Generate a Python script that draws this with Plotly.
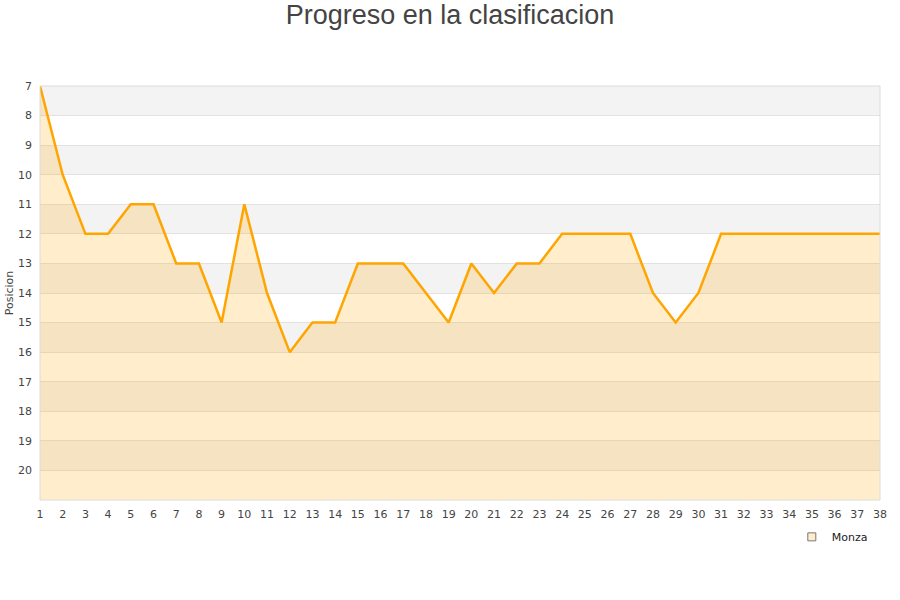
import plotly.graph_objects as go

jornadas = list(range(1, 39))
posicion = [7, 10, 12, 12, 11, 11, 13, 13, 15, 11, 14, 16, 15, 15, 13, 13, 13, 14, 15, 13,
            14, 13, 13, 12, 12, 12, 12, 14, 15, 14, 12, 12, 12, 12, 12, 12, 12, 12]
equipo = "Monza"
y_top, y_bottom = 7, 21

fig = go.Figure()

# baseline for fill
fig.add_trace(go.Scatter(x=jornadas, y=[y_bottom] * len(jornadas), mode="lines",
                         line=dict(width=0, color="rgba(0,0,0,0)"), showlegend=False,
                         hoverinfo="skip"))
fig.add_trace(go.Scatter(x=jornadas, y=posicion, mode="lines", fill="tonexty",
                         fillcolor="rgba(255,165,0,0.2)",
                         line=dict(color="#ffa500", width=2.5), showlegend=False, name=equipo))
# legend marker
fig.add_trace(go.Scatter(x=[None], y=[None], mode="markers", name=equipo,
                         marker=dict(symbol="square", size=8, color="#ffedcc",
                                     line=dict(color="#777", width=1))))

shapes = []
for v in range(y_top, y_bottom, 2):
    shapes.append(dict(type="rect", xref="paper", yref="y", x0=0, x1=1, y0=v, y1=v + 1,
                       fillcolor="#f3f3f3", line=dict(width=0), layer="below"))
shapes.append(dict(type="rect", xref="paper", yref="paper", x0=0, x1=1, y0=0, y1=1,
                   line=dict(color="#dcdcdc", width=1), fillcolor="rgba(0,0,0,0)"))

fig.update_layout(
    width=900, height=600,
    margin=dict(l=40, r=20, t=86, b=100, autoexpand=False),
    paper_bgcolor="white", plot_bgcolor="white",
    title=dict(text="Progreso en la clasificacion", x=0.5, xanchor="center", y=0.975,
               yanchor="middle",
               font=dict(family="Liberation Sans, Arial", size=27, color="#444444")),
    shapes=shapes,
    font=dict(family="DejaVu Sans", size=11, color="#444444"),
    xaxis=dict(range=[1, 38], tickmode="array", tickvals=jornadas, automargin=False,
               showgrid=False, zeroline=False, showline=False, ticks="",
               ticklabelstandoff=6,
               tickfont=dict(size=11, color="#444444")),
    yaxis=dict(range=[y_bottom, y_top], tickmode="array", tickvals=list(range(7, 21)),
               automargin=False, ticklabelstandoff=7,
               showgrid=True, gridcolor="#e2e2e2", gridwidth=1, zeroline=False,
               showline=False, ticks="",
               title=dict(text="Posicion", font=dict(size=11, color="#444444"), standoff=2),
               tickfont=dict(size=11, color="#444444")),
    legend=dict(x=0.895, y=-0.089, xanchor="left", yanchor="middle",
                font=dict(size=11, color="#222222"), bgcolor="rgba(0,0,0,0)"),
)

fig.write_html("out.html", config={"displayModeBar": False},
               post_script="document.body.style.margin='0';")
